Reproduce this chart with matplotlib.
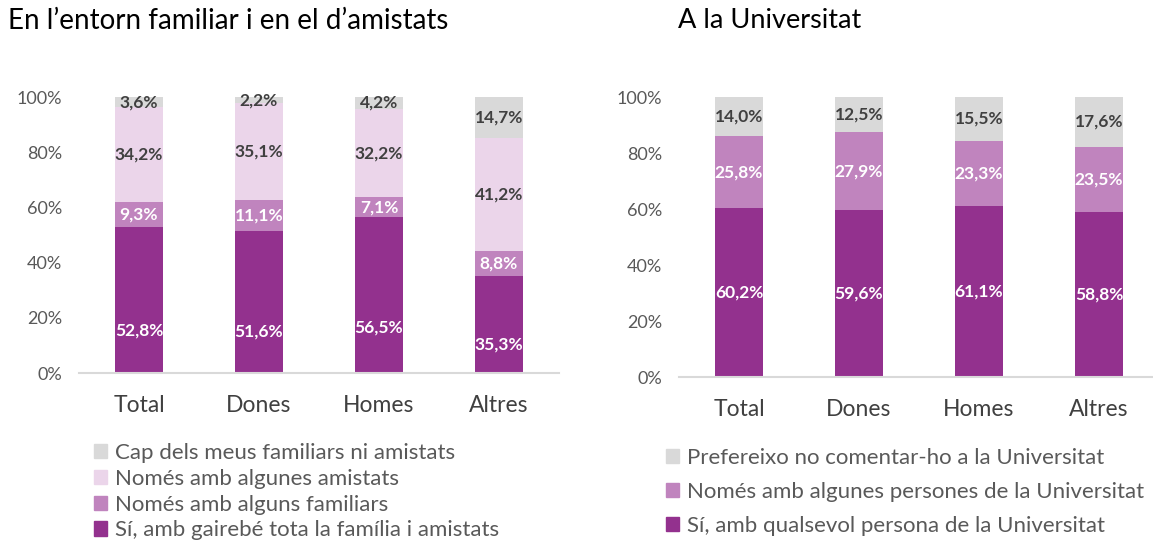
import matplotlib.pyplot as plt
from matplotlib.patches import Patch
from matplotlib.ticker import PercentFormatter

plt.rcParams['font.family'] = ['Lato', 'DejaVu Sans']

groups = ['Total', 'Dones', 'Homes', 'Altres']

# En l'entorn familiar i en el d'amistats (%)
fam_labels = ['Sí, amb gairebé tota la família i amistats',
              'Només amb alguns familiars',
              'Només amb algunes amistats',
              'Cap dels meus familiars ni amistats']
fam_tota = [52.8, 51.6, 56.5, 35.3]
fam_familiars = [9.3, 11.1, 7.1, 8.8]
fam_amistats = [34.2, 35.1, 32.2, 41.2]
fam_cap = [3.6, 2.2, 4.2, 14.7]

# A la Universitat (%)
uni_labels = ['Sí, amb qualsevol persona de la Universitat',
              'Només amb algunes persones de la Universitat',
              'Prefereixo no comentar-ho a la Universitat']
uni_qualsevol = [60.2, 59.6, 61.1, 58.8]
uni_algunes = [25.8, 27.9, 23.3, 23.5]
uni_prefereixo = [14.0, 12.5, 15.5, 17.6]

c_dark = '#93318e'
c_mid = '#c084be'
c_light = '#ebd5ea'
c_gray = '#d9d9d9'
txt_dark = '#404040'
txt_tick = '#595959'

fig = plt.figure(figsize=(11.53, 5.42), dpi=100)
ax1 = fig.add_axes([79 / 1153, 169 / 542, 480 / 1153, 276 / 542])
ax2 = fig.add_axes([679 / 1153, 165 / 542, 480 / 1153, 280 / 542])


def stacked(ax, series, colors, text_colors, label_pos=None):
    x = range(len(groups))
    bottom = [0.0] * len(groups)
    for i, (vals, col, tc) in enumerate(zip(series, colors, text_colors)):
        ax.bar(x, vals, bottom=bottom, width=0.4, color=col, linewidth=0)
        for j, v in enumerate(vals):
            if label_pos is not None and i == 0:
                y = v * label_pos
            else:
                y = bottom[j] + v / 2
            ax.text(j, y, f'{v:.1f}%'.replace('.', ','), ha='center', va='center',
                    color=tc, fontsize=12.5, fontweight='bold')
        bottom = [b + v for b, v in zip(bottom, vals)]

    ax.set_xlim(-0.5, 3.5)
    ax.set_ylim(0, 100)
    ax.set_yticks([0, 20, 40, 60, 80, 100])
    ax.yaxis.set_major_formatter(PercentFormatter(decimals=0))
    ax.set_xticks(list(x))
    ax.set_xticklabels(groups)
    ax.tick_params(axis='y', length=0, pad=12, labelsize=13, labelcolor=txt_tick)
    ax.tick_params(axis='x', length=0, pad=16, labelsize=16.5, labelcolor=txt_dark)
    for s in ['top', 'right', 'left']:
        ax.spines[s].set_visible(False)
    ax.spines['bottom'].set_color('#d9d9d9')
    ax.spines['bottom'].set_linewidth(1.5)


stacked(ax1, [fam_tota, fam_familiars, fam_amistats, fam_cap],
        [c_dark, c_mid, c_light, c_gray],
        ['white', 'white', txt_dark, txt_dark], label_pos=0.29)
stacked(ax2, [uni_qualsevol, uni_algunes, uni_prefereixo],
        [c_dark, c_mid, c_gray],
        ['white', 'white', txt_dark])

fig.text(8 / 1153, 1 - 21 / 542, "En l’entorn familiar i en el d’amistats",
         fontsize=20, color='black', va='center', ha='left')
fig.text(678 / 1153, 1 - 21 / 542, 'A la Universitat',
         fontsize=19.5, color='black', va='center', ha='left')

h1 = [Patch(color=c) for c in [c_gray, c_light, c_mid, c_dark]]
fig.legend(h1, fam_labels[::-1], loc='upper left',
           bbox_to_anchor=(94 / 1153, 1 - 443 / 542), frameon=False,
           fontsize=16, labelcolor=txt_tick, handlelength=0.6, handleheight=0.6,
           handletextpad=0.35, labelspacing=0.26, borderaxespad=0, borderpad=0)

h2 = [Patch(color=c) for c in [c_gray, c_mid, c_dark]]
fig.legend(h2, uni_labels[::-1], loc='upper left',
           bbox_to_anchor=(666 / 1153, 1 - 448 / 542), frameon=False,
           fontsize=16, labelcolor=txt_tick, handlelength=0.6, handleheight=0.6,
           handletextpad=0.35, labelspacing=0.63, borderaxespad=0, borderpad=0)

fig.savefig('out.png', dpi=100)
